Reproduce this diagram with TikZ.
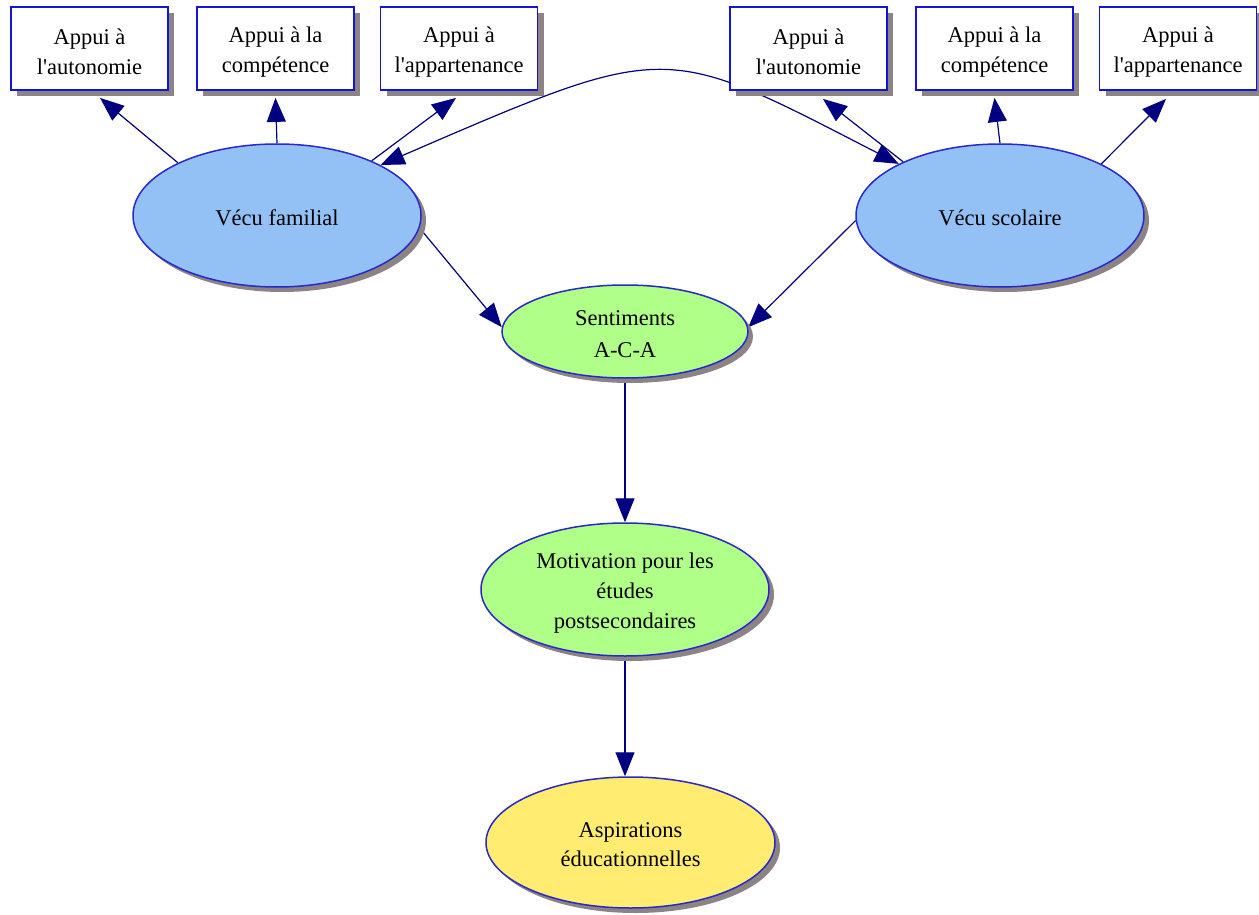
\documentclass[tikz,border=0pt]{standalone}
\usepackage{fontspec}
\setmainfont{Liberation Serif}
\usetikzlibrary{shapes.geometric,shadows,arrows.meta,backgrounds}
\definecolor{boxblue}{RGB}{20,20,215}
\definecolor{ellblue}{RGB}{40,40,205}
\definecolor{shadowgrey}{RGB}{140,132,132}
\definecolor{skyfill}{RGB}{148,193,245}
\definecolor{greenfill}{RGB}{176,255,136}
\definecolor{yellowfill}{RGB}{255,236,112}
\definecolor{navyline}{RGB}{0,0,128}
\newcommand{\apo}{\textquotesingle}
\begin{document}
\begin{tikzpicture}[x=1pt,y=-1pt,
  every node/.style={font=\fontsize{22.5}{30}\selectfont, align=center, inner sep=0pt, text=black},
  appui/.style={draw=boxblue, line width=1.8pt, fill=white, rectangle,
    minimum width=157pt, minimum height=83pt,
    drop shadow={shadow xshift=6pt, shadow yshift=-6pt, fill=shadowgrey, opacity=1}},
  ell/.style={ellipse, draw=ellblue, line width=1.5pt,
    drop shadow={shadow xshift=5pt, shadow yshift=-5pt, fill=shadowgrey, opacity=1}},
  txt/.style={yshift=-3.5pt},
  conn/.style={draw=navyline, line width=1.2pt, -{Triangle[length=24pt,width=19pt]}},
  biconn/.style={draw=navyline, line width=1.2pt, {Triangle[length=24pt,width=19pt]}-{Triangle[length=24pt,width=19pt]}}
]
\useasboundingbox (0,0) rectangle (1259,915);

% boxes
\node[appui] (b1) at (89.5,48.5) {};
\node[appui] (b2) at (275.5,48.5) {};
\node[appui] (b3) at (459,48.5) {};
\node[appui] (b4) at (808.5,48.5) {};
\node[appui] (b5) at (994.5,48.5) {};
\node[appui] (b6) at (1178,48.5) {};
\node[txt] (t1) at (b1.center) {Appui à\\l\apo autonomie};
\node[txt] (t2) at (b2.center) {Appui à la\\compétence};
\node[txt] (t3) at (b3.center) {Appui à\\l\apo appartenance};
\node[txt] (t4) at (b4.center) {Appui à\\l\apo autonomie};
\node[txt] (t5) at (b5.center) {Appui à la\\compétence};
\node[txt] (t6) at (b6.center) {Appui à\\l\apo appartenance};

% ellipses
\node[ell, fill=skyfill, minimum width=288pt, minimum height=143pt] (vf) at (277,215.5) {};
\node[ell, fill=skyfill, minimum width=288pt, minimum height=143pt] (vs) at (1000,215.5) {};
\node[ell, fill=greenfill, minimum width=246pt, minimum height=93pt] (sent) at (625,331.5) {};
\node[ell, fill=greenfill, minimum width=288pt, minimum height=133pt] (mot) at (625,589.5) {};
\node[ell, fill=yellowfill, minimum width=289pt, minimum height=131pt] (asp) at (630.5,842.5) {};
\node[yshift=-2pt] (tvf) at (vf.center) {Vécu familial};
\node[yshift=-2pt] (tvs) at (vs.center) {Vécu scolaire};
\node[yshift=-3pt, font=\fontsize{22.5}{32}\selectfont] (tsent) at (sent.center) {Sentiments\\A-C-A};
\node[yshift=-4pt] (tmot) at (mot.center) {Motivation pour les\\études\\postsecondaires};
\node[yshift=-2pt, font=\fontsize{22.5}{29}\selectfont] (tasp) at (asp.center) {Aspirations\\éducationnelles};

\begin{scope}[on background layer]
\draw[conn] (vf.152.5) -- ([xshift=10.5pt,yshift=-7pt]b1.south);
\draw[conn] (vf.north) -- ([yshift=-7pt]b2.south);
\draw[conn] (vf.30) -- ([xshift=-3pt,yshift=-7pt]b3.south);
\draw[biconn] (vs.153) .. controls (662,42) and (670,40) .. (vf.26);
\draw[conn] (vs.151) -- ([xshift=14.5pt,yshift=-8pt]b4.south);
\draw[conn] (vs.north) -- ([yshift=-7pt]b5.south);
\draw[conn] (vs.27) -- ([xshift=-12pt,yshift=-8pt]b6.south);
\draw[conn] (vf.-5) -- (sent.178);
\draw[conn] (vs.182) -- (sent.2);
\draw[conn] (sent.south) -- (mot.north);
\draw[conn] (mot.south) -- (mot.south |- asp.north);
\end{scope}
\end{tikzpicture}
\end{document}
